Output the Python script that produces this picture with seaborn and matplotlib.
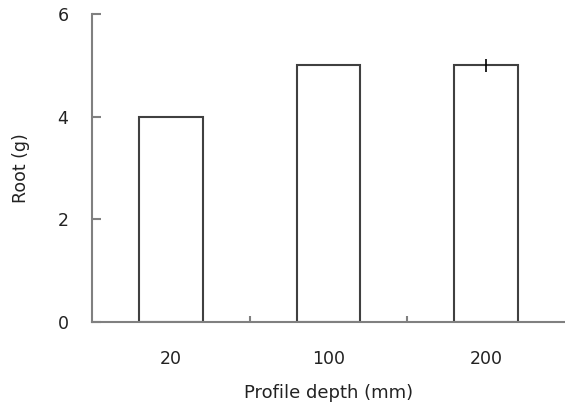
import matplotlib
matplotlib.use("Agg")
import matplotlib.pyplot as plt
import pandas as pd
import seaborn as sns

depths = ["20", "100", "200"]
root = [4.0, 5.0, 5.0]
root_err = [0.0, 0.0, 0.12]

sns.set_style("white")
plt.rcParams['font.family'] = ['DejaVu Sans']

data = pd.DataFrame({"depth": depths, "root": root})

fig = plt.figure(figsize=(5.65, 4.05), dpi=100)
ax = fig.add_axes([0.163, 0.205, 0.837, 0.760])

sns.barplot(data, x="depth", y="root", order=depths, color="white",
            edgecolor="#404040", linewidth=1.5, width=0.405,
            errorbar=None, ax=ax)
ax.errorbar(range(len(depths)), root, yerr=root_err, fmt="none",
            ecolor="black", elinewidth=1.2, capsize=0)

ax.set_xlim(-0.5, len(depths) - 0.5)
ax.set_ylim(0, 6)
ax.set_yticks([0, 2, 4, 6])

for side in ["top", "right"]:
    ax.spines[side].set_visible(False)
for side in ["left", "bottom"]:
    ax.spines[side].set_color("#808080")
    ax.spines[side].set_linewidth(1.5)

ax.tick_params(axis="y", left=True, direction="in", length=6.5, width=1.5,
               color="#808080", pad=17, labelsize=12.5, labelcolor="#222222")
ax.tick_params(axis="x", which="major", bottom=True, length=0, pad=20,
               labelsize=12.5, labelcolor="#222222")
ax.set_xticks([0.5, 1.5], minor=True)
ax.tick_params(axis="x", which="minor", bottom=True, direction="in",
               length=4, width=1.5, color="#808080")

ax.set_xlabel("Profile depth (mm)", fontsize=13, color="#222222", labelpad=12)
ax.set_ylabel("Root (g)", fontsize=12.5, color="#222222", labelpad=20)

fig.savefig("out.png", dpi=100)
